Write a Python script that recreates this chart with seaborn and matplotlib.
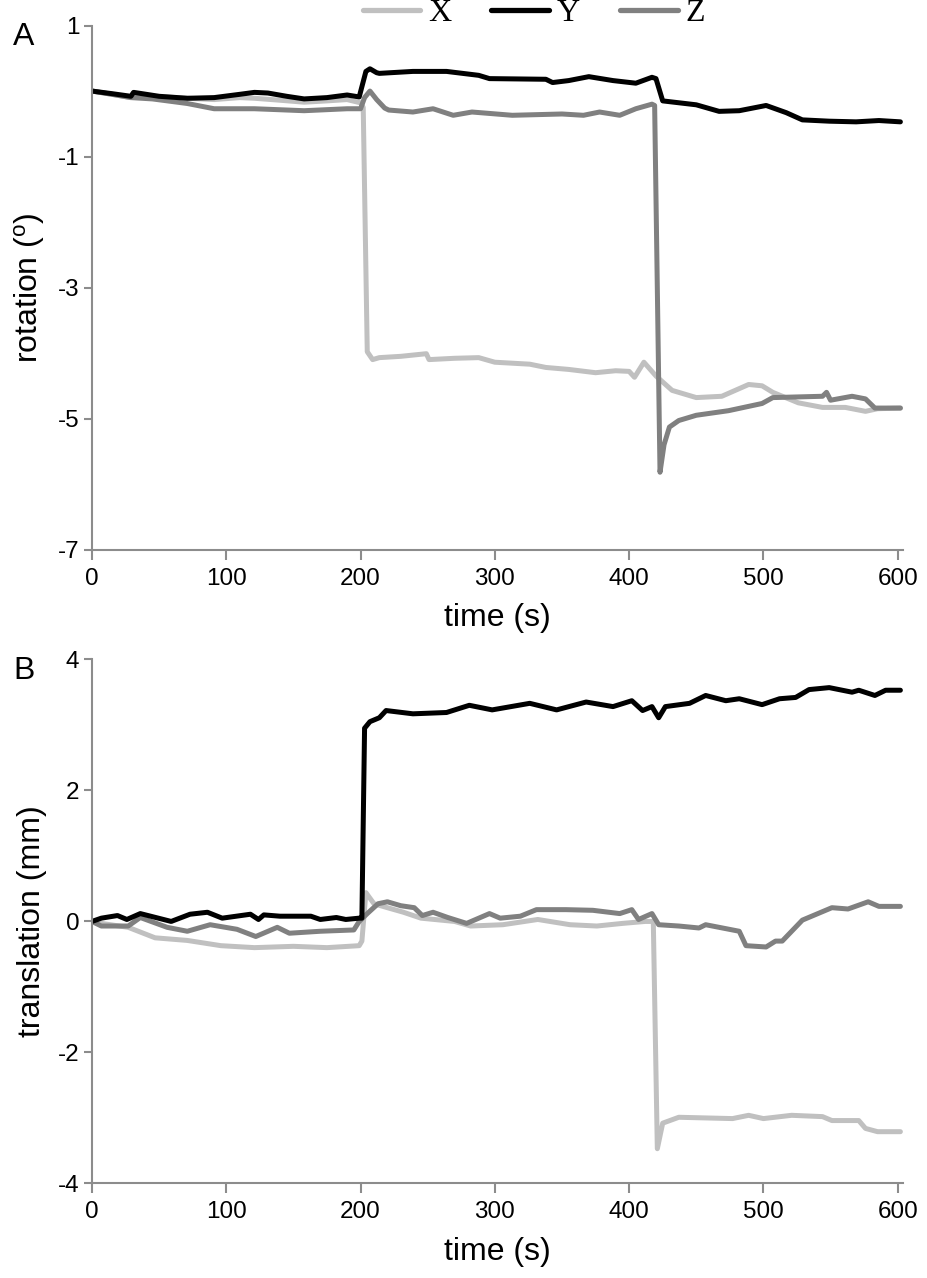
import seaborn as sns
from matplotlib import pyplot as plt
from matplotlib.lines import Line2D
import pandas as pd

sns.set_style("ticks")
plt.rcParams['font.family'] = ['Liberation Sans', 'DejaVu Sans']
plt.rcParams['text.color'] = 'black'
plt.rcParams['axes.labelcolor'] = 'black'

# ---- rotation (deg) ----
rot_x_t = [0, 15, 29, 31, 45, 71, 91, 110, 121, 140, 158, 175, 190, 200, 202, 205, 209, 214,
           230, 249, 251, 270, 288, 300, 326, 338, 355, 375, 390, 400, 404, 411, 420, 432,
           450, 469, 489, 499, 507, 526, 544, 561, 576, 585, 602]
rot_x_v = [0.0, -0.05, -0.10, -0.03, -0.08, -0.11, -0.13, -0.10, -0.11, -0.14, -0.17, -0.15,
           -0.13, -0.18, -0.25, -3.98, -4.10, -4.07, -4.05, -4.01, -4.10, -4.08, -4.07, -4.14,
           -4.17, -4.22, -4.25, -4.30, -4.27, -4.28, -4.37, -4.14, -4.35, -4.57, -4.68, -4.66,
           -4.48, -4.50, -4.60, -4.76, -4.83, -4.83, -4.89, -4.85, -4.84]

rot_y_t = [0, 15, 29, 31, 50, 71, 91, 110, 121, 131, 145, 158, 175, 190, 199, 204, 207, 212,
           214, 239, 264, 288, 296, 338, 343, 355, 370, 388, 405, 417, 420, 425, 450, 467,
           482, 502, 517, 529, 549, 569, 586, 602]
rot_y_v = [0.0, -0.04, -0.08, -0.02, -0.08, -0.11, -0.10, -0.05, -0.02, -0.03, -0.08, -0.12,
           -0.10, -0.06, -0.09, 0.30, 0.34, 0.28, 0.27, 0.30, 0.30, 0.24, 0.19, 0.18, 0.13,
           0.16, 0.22, 0.16, 0.12, 0.21, 0.19, -0.15, -0.21, -0.31, -0.30, -0.22, -0.33,
           -0.44, -0.46, -0.47, -0.45, -0.47]

rot_z_t = [0, 15, 29, 45, 71, 91, 121, 158, 190, 200, 203, 207, 212, 218, 221, 239, 254, 269,
           283, 313, 350, 366, 378, 393, 405, 417, 419, 423, 426, 430, 437, 450, 474, 499,
           507, 544, 547, 550, 566, 576, 583, 602]
rot_z_v = [0.0, -0.05, -0.10, -0.12, -0.19, -0.27, -0.27, -0.30, -0.27, -0.27, -0.10, 0.0,
           -0.13, -0.26, -0.29, -0.32, -0.27, -0.37, -0.32, -0.37, -0.35, -0.37, -0.32, -0.37,
           -0.27, -0.20, -0.22, -5.82, -5.40, -5.13, -5.03, -4.95, -4.88, -4.77, -4.68, -4.66,
           -4.60, -4.72, -4.66, -4.70, -4.84, -4.84]

# ---- translation (mm) ----
tr_x_t = [0, 7, 27, 47, 71, 96, 121, 150, 175, 199, 201, 204, 210, 220, 232, 245, 270, 282,
          306, 332, 356, 376, 395, 412, 418, 421, 425, 437, 477, 489, 500, 521, 544, 551,
          571, 576, 585, 602]
tr_x_v = [0.0, -0.03, -0.09, -0.25, -0.29, -0.37, -0.40, -0.38, -0.40, -0.37, -0.30, 0.44,
          0.27, 0.21, 0.14, 0.05, 0.0, -0.07, -0.05, 0.03, -0.05, -0.07, -0.03, 0.0, 0.0,
          -3.47, -3.08, -2.99, -3.01, -2.96, -3.01, -2.96, -2.98, -3.04, -3.04, -3.16, -3.21,
          -3.21]

tr_y_t = [0, 7, 19, 26, 36, 59, 73, 86, 97, 118, 124, 128, 140, 163, 170, 182, 189, 199,
          201, 203, 207, 214, 219, 239, 264, 281, 298, 326, 346, 368, 388, 402, 410, 417,
          422, 427, 445, 457, 472, 482, 499, 512, 524, 534, 549, 566, 571, 583, 591, 602]
tr_y_v = [0.0, 0.05, 0.09, 0.03, 0.12, 0.0, 0.11, 0.14, 0.05, 0.11, 0.03, 0.10, 0.08, 0.08,
          0.03, 0.06, 0.03, 0.05, 0.05, 2.95, 3.05, 3.11, 3.22, 3.17, 3.19, 3.30, 3.23, 3.33,
          3.23, 3.35, 3.28, 3.37, 3.22, 3.28, 3.11, 3.28, 3.33, 3.45, 3.37, 3.40, 3.31, 3.40,
          3.42, 3.54, 3.57, 3.50, 3.53, 3.45, 3.53, 3.53]

tr_z_t = [0, 7, 27, 36, 56, 71, 88, 108, 122, 138, 147, 170, 195, 199, 205, 213, 220, 230,
          240, 246, 254, 265, 279, 296, 304, 319, 331, 353, 373, 393, 402, 407, 417, 422,
          437, 452, 457, 482, 487, 502, 509, 514, 529, 551, 563, 578, 586, 602]
tr_z_v = [0.0, -0.07, -0.07, 0.06, -0.09, -0.15, -0.05, -0.12, -0.23, -0.09, -0.18, -0.15,
          -0.13, 0.0, 0.12, 0.27, 0.30, 0.24, 0.21, 0.09, 0.14, 0.06, -0.03, 0.12, 0.05, 0.08,
          0.18, 0.18, 0.17, 0.12, 0.18, 0.03, 0.12, -0.05, -0.07, -0.10, -0.05, -0.15, -0.37,
          -0.39, -0.30, -0.30, 0.02, 0.21, 0.19, 0.30, 0.23, 0.23]

colors = {'X': '#c0c0c0', 'Y': '#000000', 'Z': '#808080'}
spine_col = '#8c8c8c'
lw = 3.6

fig = plt.figure(figsize=(9.27, 12.78), dpi=100)
ax_a = fig.add_axes([0.0992, 0.570, 0.875, 0.410])
ax_b = fig.add_axes([0.0992, 0.074, 0.875, 0.410])

panels = [
    (ax_a, [('X', rot_x_t, rot_x_v), ('Z', rot_z_t, rot_z_v), ('Y', rot_y_t, rot_y_v)],
     (-7, 1), [1, -1, -3, -5, -7], 'rotation ($\\mathregular{^{o}}$)', 'A'),
    (ax_b, [('X', tr_x_t, tr_x_v), ('Z', tr_z_t, tr_z_v), ('Y', tr_y_t, tr_y_v)],
     (-4, 4), [4, 2, 0, -2, -4], 'translation (mm)', 'B'),
]

for ax, series, ylim, yticks, ylab, tag in panels:
    for name, t, v in series:
        d = pd.DataFrame({'time': t, 'val': v})
        sns.lineplot(data=d, x='time', y='val', ax=ax, color=colors[name],
                     lw=lw, estimator=None, sort=False, legend=False)
    ax.set_xlim(0, 604)
    ax.set_ylim(*ylim)
    ax.set_xticks(range(0, 601, 100))
    ax.set_yticks(yticks)
    ax.set_yticklabels([str(y) for y in yticks])
    ax.set_xlabel('time (s)', fontsize=23, labelpad=10, color='black')
    ax.set_ylabel(ylab, fontsize=23, labelpad=8, color='black')
    ax.tick_params(labelsize=17.5, color=spine_col, labelcolor='black',
                   width=1.5, length=7, pad=6)
    ax.tick_params(axis='y', pad=3, length=6)
    for s in ['top', 'right']:
        ax.spines[s].set_visible(False)
    for s in ['left', 'bottom']:
        ax.spines[s].set_color(spine_col)
        ax.spines[s].set_linewidth(1.5)
    ax.text(-0.097, 1.006, tag, transform=ax.transAxes, fontsize=23,
            ha='left', va='top', color='black')

handles = [Line2D([], [], color=colors[k], lw=3.8) for k in ['X', 'Y', 'Z']]
fig.legend(handles, ['X', 'Y', 'Z'], loc='center', bbox_to_anchor=(0.576, 0.9895),
           ncol=3, frameon=False, handlelength=1.8, handletextpad=0.25,
           columnspacing=1.25, borderpad=0, borderaxespad=0,
           prop={'family': ['Liberation Serif', 'DejaVu Serif'], 'size': 23})

plt.savefig('out.png', dpi=100)
